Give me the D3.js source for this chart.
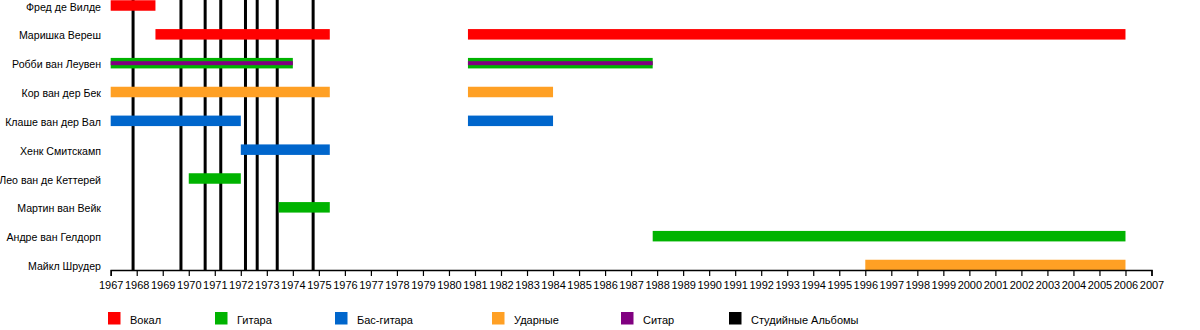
<!DOCTYPE html>
<html><head><meta charset="utf-8">
<script src="https://cdn.jsdelivr.net/npm/d3@7"></script>
<style>
html,body{margin:0;padding:0;background:#fff;}
svg{display:block;font-family:"Liberation Sans",Arial,sans-serif;}
</style></head>
<body><svg id="c" width="1200" height="330"></svg>
<script>
const members = ["Фред де Вилде","Маришка Вереш","Робби ван Леувен","Кор ван дер Бек","Клаше ван дер Вал","Хенк Смитскамп","Лео ван де Кеттерей","Мартин ван Вейк","Андре ван Гелдорп","Майкл Шрудер"];
const roles = ["Вокал","Гитара","Бас-гитара","Ударные","Ситар","Студийные Альбомы"];
const roleColors = ["#ff0000","#00b300","#0066cc","#ffa024","#800080","#000000"];
// periods: [member, role, start, end]
const vocalPeriods = [[0,"Вокал",1967,1968.72],[1,"Вокал",1968.72,1975.42],[1,"Вокал",1980.73,2006]];
const guitarPeriods = [[2,"Гитара",1967,1974],[2,"Гитара",1980.73,1987.83],[6,"Гитара",1970,1972],[7,"Гитара",1973.45,1975.42],[8,"Гитара",1987.83,2006]];
const bassPeriods = [[4,"Бас-гитара",1967,1972],[4,"Бас-гитара",1980.73,1984],[5,"Бас-гитара",1972,1975.42]];
const drumPeriods = [[3,"Ударные",1967,1975.42],[3,"Ударные",1980.73,1984],[9,"Ударные",1996,2006]];
const sitarPeriods = [[2,"Ситар",1967,1974],[2,"Ситар",1980.73,1987.83]];
const albumDates = [1967.86,1969.70,1970.63,1971.23,1972.18,1972.63,1973.40,1974.78];
const tickYears = d3.range(1967,2008);

const svg = d3.select("#c");
const x = d3.scaleLinear().domain([1967,2007]).range([110.7,1151.5]);
const y = d3.scalePoint().domain(members).range([5.5,265]);
const color = d3.scaleOrdinal().domain(roles).range(roleColors);
const barH = 10.5, stripeH = 4, axisY = 270;

// album lines
svg.append("g").selectAll("line").data(albumDates).join("line")
  .attr("x1",d=>x(d)).attr("x2",d=>x(d)).attr("y1",0).attr("y2",axisY)
  .attr("stroke","#000").attr("stroke-width",3);

const mainBars = [].concat(vocalPeriods,guitarPeriods,bassPeriods,drumPeriods);
svg.append("g").selectAll("rect").data(mainBars).join("rect")
  .attr("x",d=>x(d[2])).attr("width",d=>x(d[3])-x(d[2]))
  .attr("y",d=>y(members[d[0]])-barH/2).attr("height",barH)
  .attr("fill",d=>color(d[1]));
svg.append("g").selectAll("rect").data(sitarPeriods).join("rect")
  .attr("x",d=>x(d[2])).attr("width",d=>x(d[3])-x(d[2]))
  .attr("y",d=>y(members[d[0]])-stripeH/2).attr("height",stripeH)
  .attr("fill",d=>color(d[1]));

// names
svg.append("g").selectAll("text").data(members).join("text")
  .attr("x",101).attr("y",d=>y(d)+5).attr("text-anchor","end")
  .attr("font-size",10.6).attr("fill","#000").text(d=>d);

// axis
const ax = svg.append("g").attr("transform",`translate(0,${axisY})`)
  .call(d3.axisBottom(x).tickValues(tickYears).tickFormat(d3.format("d")).tickSize(6).tickSizeOuter(6).tickPadding(5));
ax.select(".domain").attr("stroke","#000").attr("stroke-width",1.5);
ax.selectAll(".tick line").attr("stroke","#000").attr("stroke-width",1.2);
ax.selectAll(".tick text").attr("font-size",11).attr("font-family","Liberation Sans, Arial, sans-serif").attr("fill","#000");

// legend
const legX = [108,215,335,492,621,729];
const leg = svg.append("g").selectAll("g").data(roles).join("g")
  .attr("transform",(d,i)=>`translate(${legX[i]},312)`);
leg.append("rect").attr("width",12.5).attr("height",12.5).attr("fill",d=>color(d));
leg.append("text").attr("x",22).attr("y",11.5).attr("font-size",11).attr("fill","#000").text(d=>d);
</script></body></html>
